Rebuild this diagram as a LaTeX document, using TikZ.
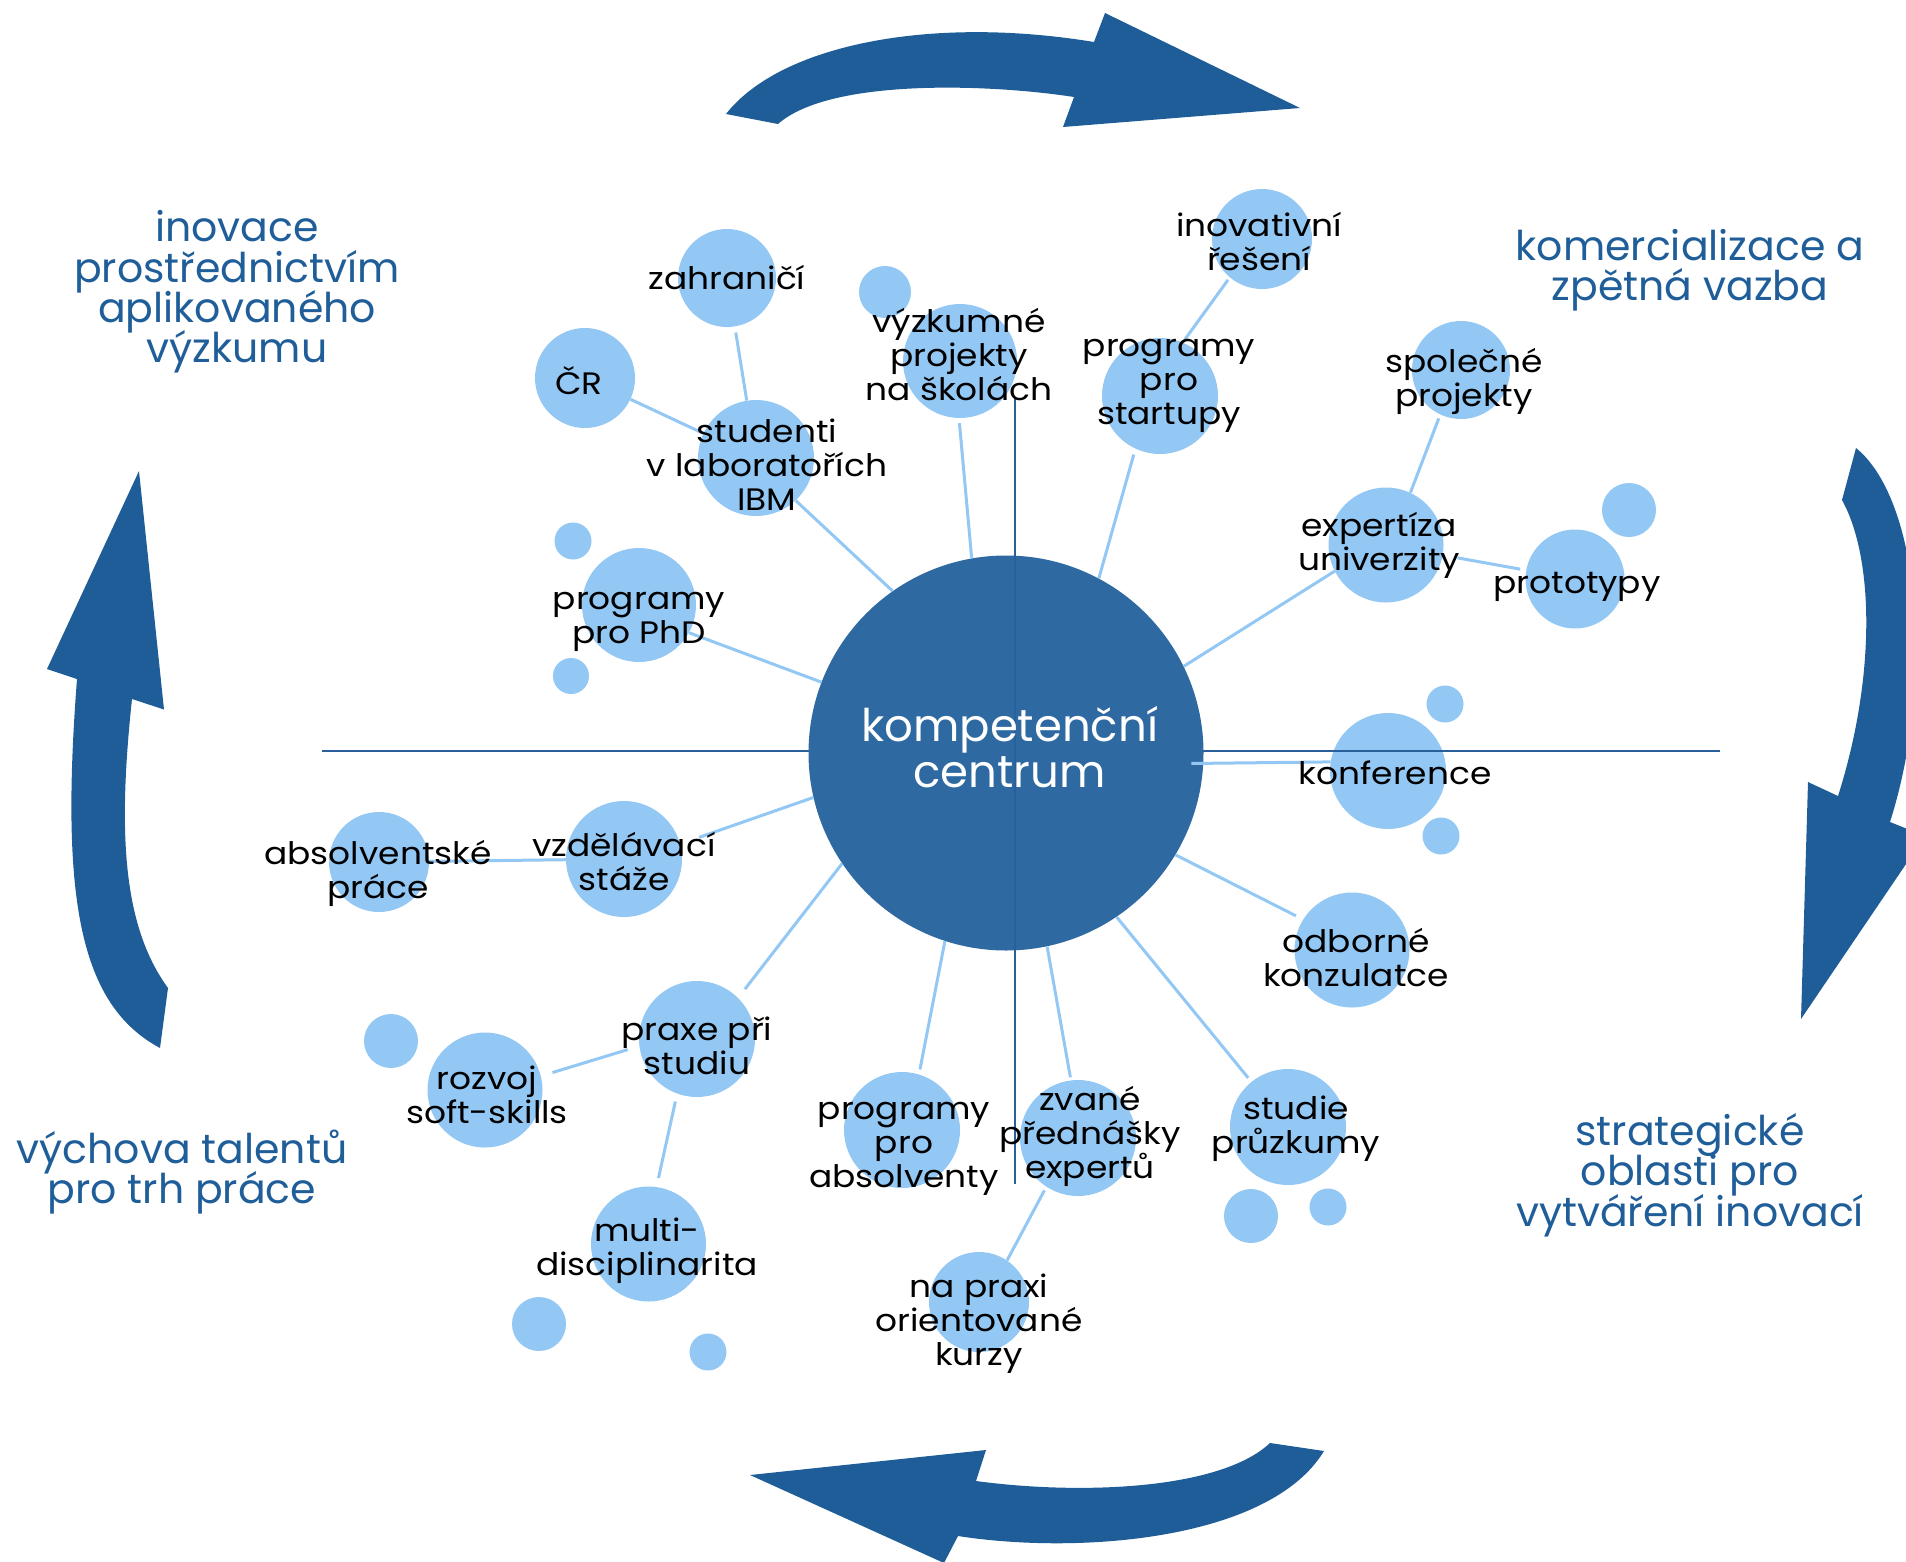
\documentclass[tikz,border=0pt]{standalone}
\usepackage{fontspec}
\setmainfont{Poppins}
\newfontfamily\lblfont[FakeStretch=1.11]{Poppins}
\definecolor{arrowblue}{RGB}{30,93,151}
\definecolor{bubble}{RGB}{147,199,244}
\definecolor{core}{RGB}{46,106,161}
\definecolor{axisblue}{RGB}{40,96,156}
\definecolor{labelblue}{RGB}{31,94,153}
\newcommand{\lstr}{\vrule height 0.75em depth 0.2em width 0pt}
\lineskiplimit=-100pt
\tikzset{
  bub/.style={circle, fill=bubble, inner sep=0pt, minimum size=#1},
  lbl/.style={align=center, inner sep=0pt, text=black, font=\lblfont\fontsize{31}{34}\selectfont, yshift=-3pt},
  area/.style={align=center, inner sep=0pt, text=labelblue, font=\fontsize{41}{40.3}\selectfont, yshift=-4pt},
  corelbl/.style={align=center, inner sep=0pt, text=white, font=\fontsize{45}{46}\selectfont, yshift=-1pt},
  link/.style={draw=bubble, line width=3pt},
  axisline/.style={draw=axisblue, line width=2pt},
  bigarrow/.style={fill=arrowblue}
}
\begin{document}
\begin{tikzpicture}[x=1pt,y=-1pt]
\useasboundingbox (0,0) rectangle (1906,1561);
\clip (0,0) rectangle (1906,1561);

% big curved arrows
\fill[bigarrow] (1300,108) -- (1063,127) -- (1074,97) .. controls (990,84) and (830,78) .. (778,124) -- (726,114) .. controls (780,45) and (930,15) .. (1094,42) -- (1105,13) -- cycle;
\fill[bigarrow] (1801,1019) -- (1808,782) -- (1838,796) .. controls (1875,680) and (1875,560) .. (1842,500) -- (1856,448) .. controls (1920,500) and (1935,680) .. (1890,822) -- (1925,836) -- cycle;
\fill[bigarrow] (750,1475) -- (986,1450) -- (976,1481) .. controls (1080,1495) and (1220,1490) .. (1270,1443) -- (1324,1451) .. controls (1270,1540) and (1080,1555) .. (958,1536) -- (944,1563) -- cycle;
\fill[bigarrow] (139,471) -- (164,709.5) -- (132,699) .. controls (118,830) and (122,925) .. (168,988) -- (160,1048) .. controls (80,1005) and (60,900) .. (77,679) -- (47,669) -- cycle;

% bubbles
\node[bub=98]  (zahr)   at (727,278) {};
\node[bub=100] (cr)     at (585,378) {};
\node[bub=116] (stud)   at (756,458) {};
\node[bub=52]  (smA)    at (885,292) {};
\node[bub=114] (vyzk)   at (960,361) {};
\node[bub=114] (phd)    at (639,605) {};
\node[bub=37]  (smB)    at (573,541) {};
\node[bub=36]  (smC)    at (571,676) {};
\node[bub=100] (inov)   at (1262,239) {};
\node[bub=116] (start)  at (1160,396) {};
\node[bub=98]  (spol)   at (1461,370) {};
\node[bub=115] (expe)   at (1386,545) {};
\node[bub=54]  (smD)    at (1629,510) {};
\node[bub=99]  (proto)  at (1575,579) {};
\node[bub=37]  (smE)    at (1445,704) {};
\node[bub=116] (konf)   at (1388,771) {};
\node[bub=37]  (smF)    at (1441,836) {};
\node[bub=115] (odb)    at (1352,950) {};
\node[bub=116] (studie) at (1288,1127) {};
\node[bub=54]  (smG)    at (1251,1216) {};
\node[bub=37]  (smH)    at (1328,1207) {};
\node[bub=116] (zvane)  at (1078,1138) {};
\node[bub=116] (absv)   at (902,1130) {};
\node[bub=100] (kurzy)  at (979,1302) {};
\node[bub=115] (multi)  at (648.5,1244) {};
\node[bub=54]  (smI)    at (539,1324) {};
\node[bub=37]  (smJ)    at (708,1352) {};
\node[bub=116] (praxe)  at (697,1039) {};
\node[bub=115] (rozvoj) at (485,1090) {};
\node[bub=54]  (smK)    at (391,1041) {};
\node[bub=116] (vzdel)  at (624,859) {};
\node[bub=100] (abspr)  at (379,862) {};

% axes
\coordinate (hl) at (322,751);
\coordinate (hr) at (1720,751);
\coordinate (vt) at (1015,397);
\coordinate (vb) at (1015,1184);
\draw[axisline] (hl) -- (hr);

% centre
\node[circle, fill=core, inner sep=0pt, minimum size=395] (kc) at (1006,753) {};
\draw[axisline] (vt) -- (vb);

% connectors
\draw[link, shorten <=6pt] (zahr) -- (stud);
\draw[link] (cr) -- (stud);
\draw[link] (stud.313) -- (kc.125);
\draw[link] (phd.331) -- (kc.159);
\draw[link, shorten <=5pt] (vyzk.269) -- (kc.100);
\draw[link, shorten <=6pt] (start.245) -- (kc.62.6);
\draw[link, shorten <=3pt, shorten >=4pt] (inov.230) -- (start.67);
\draw[link, shorten <=4pt] (spol.245.5) -- (expe.65.4);
\draw[link, shorten <=15pt, shorten >=6pt] (expe) -- (proto);
\draw[link] (expe.207) -- (kc.26.4);
\draw[link, shorten <=-12pt] (kc.357.4) -- (konf.171.5);
\draw[link, shorten <=8pt] (odb.148) -- (kc.329);
\draw[link, shorten <=5pt] (studie.129) -- (kc.304);
\draw[link, shorten <=3pt] (zvane.97.5) -- (kc.282.6);
\draw[link, shorten <=4pt] (zvane.237.4) -- (kurzy.56.5);
\draw[link, shorten <=5pt] (absv.73.4) -- (kc.252.8);
\draw[link, shorten <=11pt] (praxe.45.7) -- (kc.214.9);
\draw[link, shorten <=12pt, shorten >=12pt] (rozvoj.14.5) -- (praxe.187.4);
\draw[link, shorten <=8pt, shorten >=9pt] (praxe.250.1) -- (multi.82.1);
\draw[link, shorten <=20pt] (vzdel.15.8) -- (kc.193.8);
\draw[link] (abspr) -- (vzdel);

% labels
\node[corelbl] (tkc) at (1009.7,750.4) {\lstr kompetenční\\centrum\lstr};
\node[lbl] (tzahr)   at (727,277)  {\lstr zahraničí\lstr};
\node[lbl] (tcr)     at (579,381)  {\lstr ČR\lstr};
\node[lbl] (tstud)   at (767,465)  {\lstr studenti\\v laboratořích\\IBM\lstr};
\node[lbl] (tvyzk)   at (959,354)  {\lstr výzkumné\\projekty\\na školách\lstr};
\node[lbl] (tphd)    at (639,616)  {\lstr programy\\pro PhD\lstr};
\node[lbl] (tinov)   at (1259,241) {\lstr inovativní\\řešení\lstr};
\node[lbl] (tstart)  at (1169,380) {\lstr programy\\pro\\startupy\lstr};
\node[lbl] (tspol)   at (1464,378) {\lstr společné\\projekty\lstr};
\node[lbl] (texpe)   at (1379,542) {\lstr expertíza\\univerzity\lstr};
\node[lbl] (tproto)  at (1577,583) {\lstr prototypy\lstr};
\node[lbl] (tkonf)   at (1395,773) {\lstr konference\lstr};
\node[lbl] (todb)    at (1356,957) {\lstr odborné\\konzulatce\lstr};
\node[lbl] (tstudie) at (1296,1126) {\lstr studie\\průzkumy\lstr};
\node[lbl] (tzvane)  at (1090,1133) {\lstr zvané\\přednášky\\expertů\lstr};
\node[lbl] (tabsv)   at (904,1143) {\lstr programy\\pro\\absolventy\lstr};
\node[lbl] (tkurzy)  at (979,1321) {\lstr na praxi\\orientované\\kurzy\lstr};
\node[lbl] (tmulti)  at (647,1248) {\lstr multi-\\disciplinarita\lstr};
\node[lbl] (tpraxe)  at (697,1046) {\lstr praxe při\\studiu\lstr};
\node[lbl] (trozvoj) at (487,1095) {\lstr rozvoj\\soft-skills\lstr};
\node[lbl] (tvzdel)  at (624,861)  {\lstr vzdělávací\\stáže\lstr};
\node[lbl] (tabspr)  at (378,870)  {\lstr absolventské\\práce\lstr};

\node[area] (ainov)  at (237,288)   {\lstr inovace\\prostřednictvím\\aplikovaného\\výzkumu\lstr};
\node[area] (akom)   at (1690,266)  {\lstr komercializace a\\zpětná vazba\lstr};
\node[area] (astrat) at (1690,1171) {\lstr strategické\\oblasti pro\\vytváření inovací\lstr};
\node[area] (avych)  at (182,1168)  {\lstr výchova talentů\\pro trh práce\lstr};
\end{tikzpicture}
\end{document}
